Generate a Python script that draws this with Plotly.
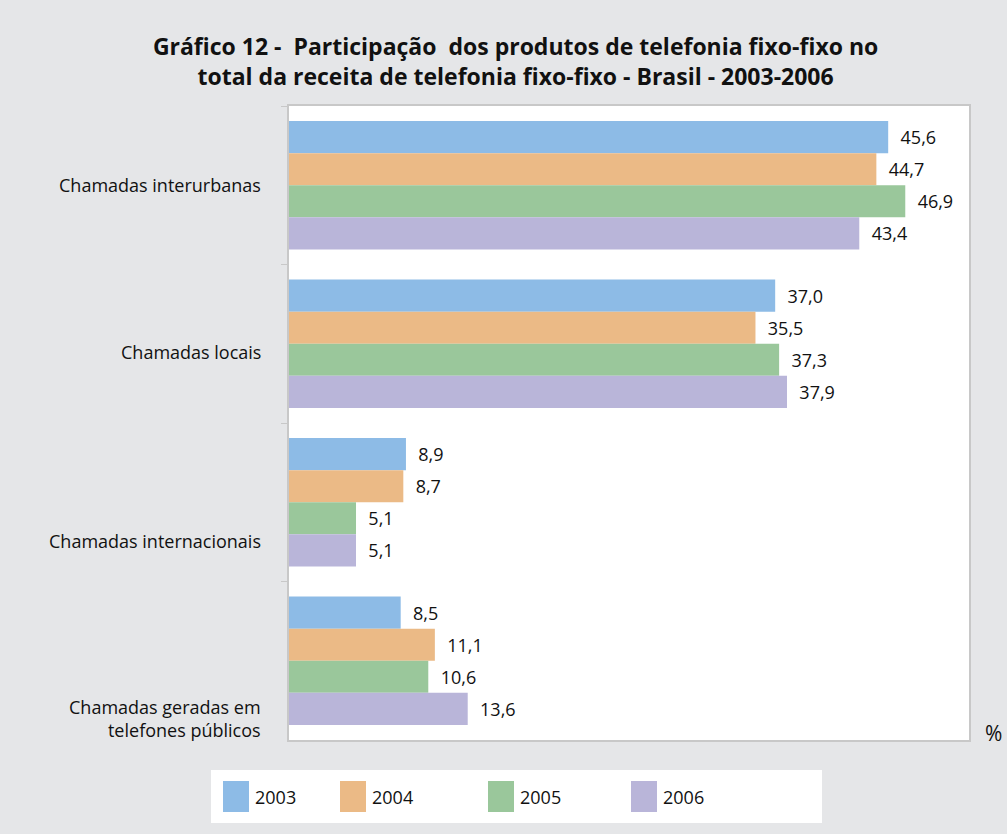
import plotly.graph_objects as go

categories = ["Chamadas interurbanas", "Chamadas locais", "Chamadas internacionais",
              "Chamadas geradas em<br>telefones públicos"]
years = ["2003", "2004", "2005", "2006"]
v2003 = [45.6, 37.0, 8.9, 8.5]
v2004 = [44.7, 35.5, 8.7, 11.1]
v2005 = [46.9, 37.3, 5.1, 10.6]
v2006 = [43.4, 37.9, 5.1, 13.6]
series = [v2003, v2004, v2005, v2006]
colors = ["#8dbbe6", "#ebba86", "#9ac79b", "#b9b5d9"]
label_shift = [0, -8, -39, -58]

FONT = "Open Sans, Liberation Sans, Arial, sans-serif"
BG = "#e5e6e8"

fig = go.Figure()
for yr, vals, col in zip(years, series, colors):
    fig.add_trace(go.Bar(
        y=categories, x=vals, orientation="h", name=yr,
        marker=dict(color=col, line=dict(width=0)),
        text=["\u00a0\u00a0" + f"{v:.1f}".replace(".", ",") for v in vals],
        textposition="outside", cliponaxis=False,
        textfont=dict(family=FONT, size=18, color="#111111"),
        showlegend=False,
    ))

annotations = []
for cat, sh in zip(categories, label_shift):
    annotations.append(dict(x=0, xref="paper", y=cat, yref="y", xanchor="right",
                            xshift=-26, yshift=sh, text=cat, showarrow=False, align="right",
                            font=dict(family=FONT, size=18, color="#111111")))
annotations.append(dict(x=(993 - 289) / 680, xref="paper", y=(740 - 733) / 634, yref="paper",
                        xanchor="center", yanchor="middle", text="%", showarrow=False,
                        font=dict(family=FONT, size=21, color="#111111")))

# Manual legend
shapes = [dict(type="rect", xref="paper", yref="paper", layer="below",
               x0=(211 - 289) / 680, x1=(822 - 289) / 680,
               y0=(740 - 823) / 634, y1=(740 - 770) / 634,
               fillcolor="white", line=dict(width=0))]
leg_x = [223, 340, 488, 631]
for yr, col, lx in zip(years, colors, leg_x):
    shapes.append(dict(type="rect", xref="paper", yref="paper",
                       x0=(lx - 289) / 680, x1=(lx + 26 - 289) / 680,
                       y0=(740 - 812) / 634, y1=(740 - 781) / 634,
                       fillcolor=col, line=dict(width=0)))
    annotations.append(dict(x=(lx + 30 - 289) / 680, xref="paper", y=(740 - 797) / 634, yref="paper",
                            xanchor="left", yanchor="middle", text=yr, showarrow=False,
                            font=dict(family=FONT, size=18, color="#111111")))

fig.update_layout(
    width=1007, height=834,
    paper_bgcolor=BG, plot_bgcolor="white",
    margin=dict(l=289, r=38, t=106, b=94),
    barmode="group", bargap=0.19, bargroupgap=0,
    title=dict(text="<b>Gráfico 12 -\u00a0 Participação\u00a0 dos produtos de telefonia fixo-fixo no<br>total da receita de telefonia fixo-fixo - Brasil - 2003-2006</b>",
               x=0.512, xanchor="center", y=1 - 55 / 834, yanchor="middle", yref="container",
               font=dict(family=FONT, size=23, color="#111111")),
    xaxis=dict(range=[0, 51.75], showgrid=False, zeroline=False, showticklabels=False,
               ticks="", showline=True, linecolor="#c8c8c8", linewidth=2, mirror=True),
    yaxis=dict(autorange="reversed", showticklabels=False, ticks="outside", tickson="boundaries",
               ticklen=6, tickcolor="#c8c8c8", showgrid=False, showline=True,
               linecolor="#c8c8c8", linewidth=2, mirror=True),
    shapes=shapes, annotations=annotations, showlegend=False,
)

fig.write_html("out.html", config={"displayModeBar": False},
               post_script="document.body.style.margin='0';")
